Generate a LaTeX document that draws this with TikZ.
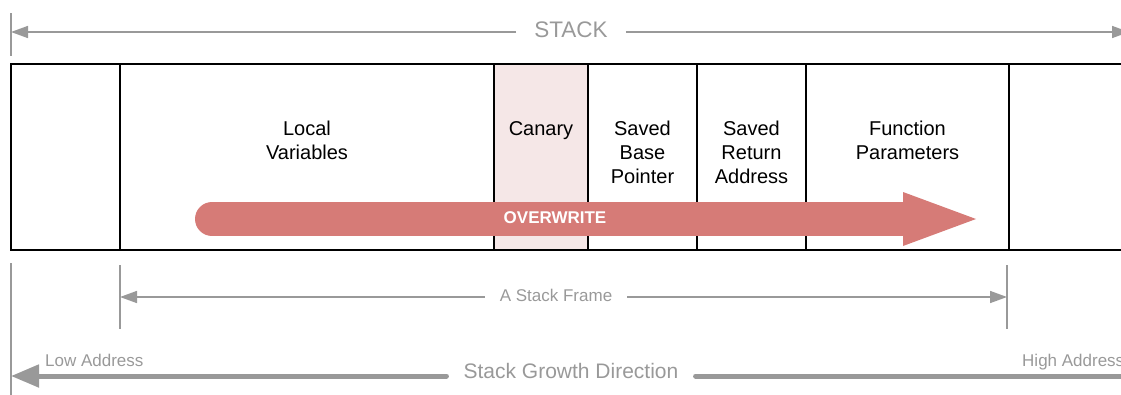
\documentclass[tikz,border=0pt]{standalone}
\usepackage{fontspec}
\setmainfont{Liberation Sans}
\usetikzlibrary{arrows.meta}

\definecolor{guide}{HTML}{999999}
\definecolor{canaryfill}{HTML}{F5E7E7}
\definecolor{overwrite}{HTML}{D67B77}

\tikzset{
  cell/.style={draw=black, line width=1.6pt, minimum height=186pt, inner sep=0pt,
    outer sep=0pt, anchor=west},
  celltext/.style={anchor=north, inner sep=0pt, align=center, text=black,
    font=\fontsize{20pt}{24pt}\selectfont},
  guideline/.style={draw=guide, line width=1.6pt},
  thinhead/.style={-{Triangle[length=17pt,width=12pt]}},
  growth/.style={draw=guide, line width=5pt, line cap=round},
  glabel/.style={text=guide, inner sep=0pt}
}

\begin{document}
\begin{tikzpicture}[x=1pt, y=-1pt]
\useasboundingbox (0,0) rectangle (1121,394);

% ---- overall stack extent ----
\coordinate (topL) at (11,32);
\coordinate (topR) at (1129,32);
\node[glabel, inner xsep=18pt, font=\fontsize{22.5pt}{27pt}\selectfont] (stack) at (571,30) {STACK};
\draw[guideline] (11,13) -- (11,56);
\draw[guideline, thinhead] (topL -| stack.west) -- (topL);
\draw[guideline, thinhead] (topR -| stack.east) -- (topR);

% ---- stack cells ----
\node[cell, minimum width=109pt] (c0) at (11,157) {};
\node[cell, minimum width=374pt] (c1) at (120,157) {};
\node[cell, minimum width=94pt, fill=canaryfill] (c2) at (494,157) {};
\node[cell, minimum width=109pt] (c3) at (588,157) {};
\node[cell, minimum width=109pt] (c4) at (697,157) {};
\node[cell, minimum width=203pt] (c5) at (806,157) {};
\node[cell, minimum width=140pt] (c6) at (1009,157) {};

\node[celltext] (t1) at ([yshift=-57pt]c1.north) {Local\\Variables};
\node[celltext] (t2) at ([yshift=-57pt]c2.north) {Canary};
\node[celltext] (t3) at ([yshift=-57pt]c3.north) {Saved\\Base\\Pointer};
\node[celltext] (t4) at ([yshift=-57pt]c4.north) {Saved\\Return\\Address};
\node[celltext] (t5) at ([yshift=-57pt]c5.north) {Function\\Parameters};

% ---- overwrite arrow ----
\draw[overwrite, line width=34pt, line cap=round] (212,219) -- (905,219);
\fill[overwrite] (903,192) -- (976,219) -- (903,246) -- cycle;
\node[text=white, inner sep=0pt, font=\bfseries\fontsize{17pt}{20pt}\selectfont] (ow) at (555,218) {OVERWRITE};

% ---- stack frame extent ----
\draw[guideline] (120,265) -- (120,329);
\draw[guideline] (1007,265) -- (1007,329);
\coordinate (sfL) at (120,297);
\coordinate (sfR) at (1007,297);
\node[glabel, inner xsep=15pt, font=\fontsize{17pt}{20pt}\selectfont] (frame) at (556,295) {A Stack Frame};
\draw[guideline, thinhead] (sfL -| frame.west) -- (sfL);
\draw[guideline, thinhead] (sfR -| frame.east) -- (sfR);

% ---- growth direction ----
\draw[guideline] (11,263) -- (11,400);
\coordinate (grL) at (11,376);
\coordinate (grR) at (1135,376);
\node[glabel, inner xsep=17pt, font=\fontsize{21pt}{25pt}\selectfont] (grow) at (571,371) {Stack Growth Direction};
\draw[growth, -{Triangle[length=28pt,width=22pt]}] (grL -| grow.west) -- (grL);
\draw[growth] (grR -| grow.east) -- (grR);
\node[glabel, anchor=base west, font=\fontsize{17pt}{20pt}\selectfont] (low) at (45,366.5) {Low Address};
\node[glabel, anchor=base west, font=\fontsize{17pt}{20pt}\selectfont] (high) at (1022,366.5) {High Address};
\end{tikzpicture}
\end{document}
